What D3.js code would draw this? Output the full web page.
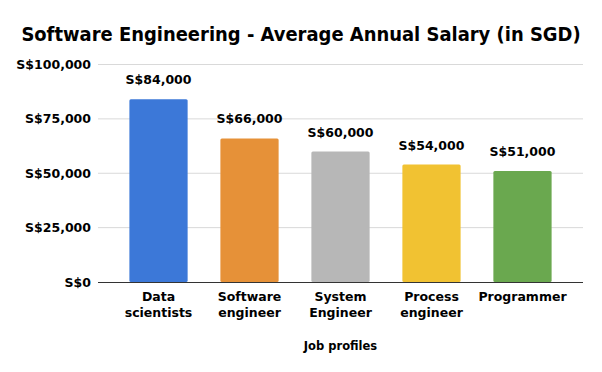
<!DOCTYPE html>
<html>
<head>
<meta charset="utf-8">
<script src="https://cdn.jsdelivr.net/npm/d3@7"></script>
<style>
  body { margin: 0; background: #fff; }
  text { font-family: "DejaVu Sans", Verdana, sans-serif; font-weight: bold; fill: #000; }
  .title { font-family: "DejaVu Sans Condensed", "DejaVu Sans", sans-serif; }
</style>
</head>
<body>
<svg width="602" height="372"></svg>
<script>
"use strict";
const jobs = ["Data scientists", "Software engineer", "System Engineer", "Process engineer", "Programmer"];
const salaries = [84000, 66000, 60000, 54000, 51000];
const barColors = ["#3c78d8", "#e69138", "#b7b7b7", "#f1c232", "#6aa84f"];
const yTicks = [0, 25000, 50000, 75000, 100000];

const svg = d3.select("svg");
const plotLeft = 98, plotRight = 583, plotTop = 64.5, plotBottom = 282;

const x = d3.scaleBand().domain(jobs).range([plotLeft, plotRight]).paddingInner(0.36).paddingOuter(0.345);
const y = d3.scaleLinear().domain([0, 100000]).range([plotBottom, plotTop]);
const money = d => "S$" + d3.format(",")(d);

// title, font size fitted so it spans about 560px like the reference
const title = svg.append("text")
  .attr("class", "title")
  .attr("x", 301).attr("y", 41)
  .attr("text-anchor", "middle")
  .style("font-size", "20px")
  .text("Software Engineering - Average Annual Salary (in SGD)");
const tw = title.node().getComputedTextLength();
if (tw > 560) title.style("font-size", (20 * 560 / tw).toFixed(2) + "px");

// gridlines
svg.append("g")
  .selectAll("line")
  .data(yTicks.slice(1))
  .join("line")
  .attr("x1", plotLeft).attr("x2", plotRight)
  .attr("y1", d => y(d)).attr("y2", d => y(d))
  .attr("stroke", "#d9d9d9").attr("stroke-width", 1);

// y axis labels
const yAxis = d3.axisLeft(y).tickValues(yTicks).tickFormat(money).tickSize(0).tickPadding(7);
const gy = svg.append("g").attr("transform", `translate(${plotLeft},0)`).call(yAxis);
gy.select(".domain").remove();
gy.attr("font-family", null);
gy.selectAll("text").style("font-size", "12.5px");

// bars
svg.append("g")
  .selectAll("rect")
  .data(salaries)
  .join("rect")
  .attr("x", (d, i) => x(jobs[i]))
  .attr("y", d => y(d))
  .attr("width", x.bandwidth())
  .attr("height", d => plotBottom - y(d))
  .attr("rx", 1.5)
  .attr("fill", (d, i) => barColors[i]);

// value labels
svg.append("g")
  .selectAll("text")
  .data(salaries)
  .join("text")
  .attr("x", (d, i) => x(jobs[i]) + x.bandwidth() / 2)
  .attr("y", d => y(d) - 15)
  .attr("text-anchor", "middle")
  .style("font-size", "12.5px")
  .text(d => money(d));

// x axis
const xAxis = d3.axisBottom(x).tickSize(0).tickFormat("");
const gx = svg.append("g").attr("transform", `translate(0,${plotBottom})`).call(xAxis);
gx.select(".domain").attr("stroke", "#333").attr("d", `M${plotLeft},0.5H${plotRight}`);

// category labels, split on first space
svg.append("g")
  .selectAll("text")
  .data(jobs)
  .join("text")
  .attr("x", d => x(d) + x.bandwidth() / 2)
  .attr("y", 301)
  .attr("text-anchor", "middle")
  .style("font-size", "12.5px")
  .each(function (d) {
    const cx = d3.select(this).attr("x");
    d3.select(this).selectAll("tspan")
      .data(d.split(" "))
      .join("tspan")
      .attr("x", cx)
      .attr("dy", (p, i) => i === 0 ? 0 : 16)
      .text(p => p);
  });

// axis title
svg.append("text")
  .attr("x", (plotLeft + plotRight) / 2)
  .attr("y", 350)
  .attr("text-anchor", "middle")
  .style("font-size", "11.5px")
  .text("Job profiles");
</script>
</body>
</html>
